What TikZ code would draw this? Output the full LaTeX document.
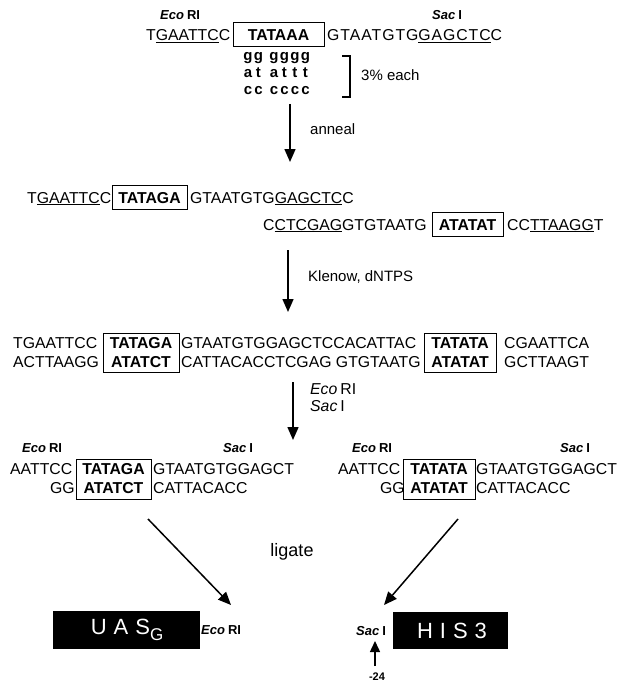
\documentclass[tikz,border=0pt]{standalone}
\usepackage{fontspec}
\setmainfont{Liberation Sans}
\usetikzlibrary{arrows.meta}
\newcommand\seqf{\fontsize{15.8}{18}\selectfont}
\newcommand\enzf{\fontsize{13}{15}\selectfont}
\newcommand\labf{\fontsize{15}{17}\selectfont}
\newcommand\varf{\fontsize{15}{17}\selectfont\bfseries}
\newcommand\ligf{\fontsize{18}{20}\selectfont}
\newcommand\genef{\fontsize{22}{24}\selectfont}
\newcommand\ecolab{\textbf{\textit{Eco}}\hspace{3pt}\textbf{RI}}
\newcommand\saclab{\textbf{\textit{Sac}}\hspace{3pt}\textbf{I}}
\newcommand\vcol[1]{\makebox[10.5pt]{#1}}
\begin{document}
\begin{tikzpicture}[x=1pt,y=-1pt,
  seq/.style={font=\seqf, inner sep=0pt, anchor=base west},
  bseq/.style={font=\seqf\bfseries, inner sep=0pt, anchor=base},
  tbox/.style={draw, line width=1pt, font=\seqf\bfseries, inner xsep=0pt, inner ysep=6pt, text height=11.5pt, text depth=0pt, anchor=base},
  dbox/.style={draw, line width=1pt, inner sep=0pt},
  enz/.style={font=\enzf, inner sep=0pt, anchor=base west},
  lab/.style={font=\labf, inner sep=0pt, anchor=base west},
  var/.style={font=\varf, inner sep=0pt, anchor=base west},
  arr/.style={line width=1.5pt, -{Triangle[length=13pt,width=11pt]}},
  genebox/.style={fill=black, draw=black, inner sep=0pt},
  genetext/.style={font=\genef, text=white, inner sep=0pt, anchor=base}
]
\useasboundingbox (0,0) rectangle (617,682);

% ---- top oligo
\node[enz] (e1) at (160,20) {\ecolab};
\node[enz] (s1) at (432,20) {\saclab};
\node[seq] (l1a) at (146,40.5) {T\underline{GAATTC}C};
\node[tbox, minimum width=91pt] (l1b) at (278.5,40.5) {TATAAA};
\node[seq] (l1c) at (327,40.5) {\addfontfeature{LetterSpace=6}GTAATGTG\underline{GAGCTC}C};
\node[var] (v1) at (242.5,61) {\vcol{g}\vcol{g}\hspace{5pt}\vcol{g}\vcol{g}\vcol{g}\vcol{g}};
\node[var] (v2) at (242.5,78) {\vcol{a}\vcol{t}\hspace{5pt}\vcol{a}\vcol{t}\vcol{t}\vcol{t}};
\node[var] (v3) at (242.5,95) {\vcol{c}\vcol{c}\hspace{5pt}\vcol{c}\vcol{c}\vcol{c}\vcol{c}};
\draw[line width=1.1pt] (342,56) -- (350,56) -- (350,97) -- (342,97);
\node[lab] (each) at (361,81) {3\% each};

% ---- anneal arrow
\coordinate (a1s) at (290,104);
\coordinate (a1e) at (290,162);
\draw[arr] (a1s) -- (a1e);
\node[lab] (ann) at (310,134) {anneal};

% ---- annealed oligos
\node[seq] (l2a) at (27,203) {T\underline{GAATTC}C};
\node[tbox, minimum width=75pt] (l2b) at (149.5,203) {TATAGA};
\node[seq] (l2c) at (190,203) {GTAATGTG\underline{GAGCTC}C};
\node[seq] (l3a) at (263,230) {C\underline{CTCGAG}GTGTAATG};
\node[tbox, minimum width=71pt] (l3b) at (467.5,230) {ATATAT};
\node[seq] (l3c) at (507,230) {CC\underline{TTAAGG}T};

% ---- Klenow arrow
\coordinate (a2s) at (288,250);
\coordinate (a2e) at (288,312);
\draw[arr] (a2s) -- (a2e);
\node[lab] (kle) at (308,281) {Klenow, dNTPS};

% ---- double strand
\node[seq] (d1a) at (13,348.5) {TGAATTCC};
\node[seq] (d2a) at (13,367.5) {ACTTAAGG};
\node[dbox, minimum width=76pt, minimum height=39pt] (db1) at (141,352.5) {};
\node[bseq] (d1b) at (141,348.5) {TATAGA};
\node[bseq] (d2b) at (141,367.5) {ATATCT};
\node[seq] (d1c) at (181,348.5) {GTAATGTGGAGCTCCACATTAC};
\node[seq] (d2c) at (181,367.5) {CATTACACCTCGAG GTGTAATG};
\node[dbox, minimum width=72pt, minimum height=39pt] (db2) at (460,352.5) {};
\node[bseq] (d1d) at (460,348.5) {TATATA};
\node[bseq] (d2d) at (460,367.5) {ATATAT};
\node[seq] (d1e) at (504,348.5) {CGAATTCA};
\node[seq] (d2e) at (504,367.5) {GCTTAAGT};

% ---- digestion arrow
\coordinate (a3s) at (293,382);
\coordinate (a3e) at (293,440);
\draw[arr] (a3s) -- (a3e);
\node[seq] (dig1) at (310,394) {\textit{Eco}\hspace{3pt}RI};
\node[seq] (dig2) at (310,411) {\textit{Sac}\hspace{3pt}I};

% ---- left fragment
\node[enz] (fe1) at (22,452) {\ecolab};
\node[enz] (fs1) at (223,452) {\saclab};
\node[seq] (f1a) at (10,474) {AATTCC};
\node[dbox, minimum width=75pt, minimum height=40pt] (fb1) at (113.5,479) {};
\node[bseq] (f1b) at (113.5,474) {TATAGA};
\node[bseq] (f1c) at (113.5,493) {ATATCT};
\node[seq] (f1d) at (153,474) {GTAATGTGGAGCT};
\node[seq] (f1e) at (50,493) {GG};
\node[seq] (f1f) at (153,493) {CATTACACC};

% ---- right fragment
\node[enz] (fe2) at (352,452) {\ecolab};
\node[enz] (fs2) at (560,452) {\saclab};
\node[seq] (f2a) at (338,474) {AATTCC};
\node[dbox, minimum width=72pt, minimum height=40pt] (fb2) at (439,479) {};
\node[bseq] (f2b) at (439,474) {TATATA};
\node[bseq] (f2c) at (439,493) {ATATAT};
\node[seq] (f2d) at (476,474) {GTAATGTGGAGCT};
\node[seq] (f2e) at (380,493) {GG};
\node[seq] (f2f) at (476,493) {CATTACACC};

% ---- ligate
\node[font=\ligf, inner sep=0pt] (lig) at (292,552) {ligate};
\coordinate (a4s) at (148,519);
\coordinate (a4e) at (231,605);
\draw[arr] (a4s) -- (a4e);
\coordinate (a5s) at (458,519);
\coordinate (a5e) at (384,605);
\draw[arr] (a5s) -- (a5e);

% ---- gene boxes
\node[genebox, minimum width=146pt, minimum height=37pt] (uas) at (126,629.5) {};
\node[genetext] (uast) at (127,634) {U\hspace{7pt}A\hspace{7pt}S\raisebox{-6pt}{\fontsize{17}{17}\selectfont G}};
\node[enz] (fe3) at (201,634) {\ecolab};
\node[genebox, minimum width=114pt, minimum height=36pt] (his) at (450,630) {};
\node[genetext] (hist) at (452,638) {H\hspace{7pt}I\hspace{7pt}S\hspace{7pt}3};
\node[enz] (fs3) at (356,635) {\saclab};
\coordinate (a6s) at (375,666);
\coordinate (a6e) at (375,641);
\draw[line width=1.5pt, -{Triangle[length=11pt,width=10pt]}] (a6s) -- (a6e);
\node[font=\fontsize{11}{13}\selectfont\bfseries, inner sep=0pt] (m24) at (377,677) {-24};
\end{tikzpicture}
\end{document}
